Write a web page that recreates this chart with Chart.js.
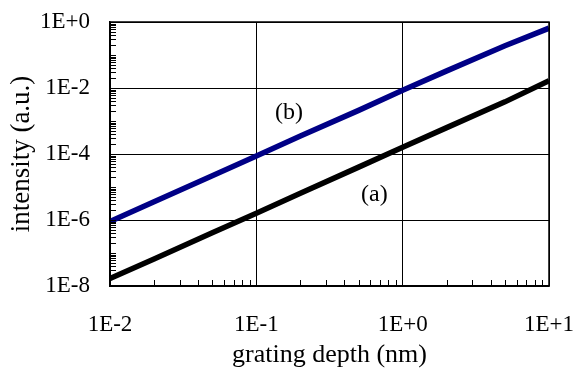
<!DOCTYPE html>
<html lang="en">
<head>
  <meta charset="UTF-8">
  <title>Intensity vs grating depth</title>
  <script src="https://cdn.jsdelivr.net/npm/chart.js"></script>
  <style>
    html, body { margin: 0; padding: 0; background: #fff; }
    #wrap { width: 575px; height: 371px; }
  </style>
</head>
<body>
  <div id="wrap"><canvas id="c"></canvas></div>
  <script>
    // grating depth (nm)
    const depth = [0.01, 0.02, 0.05, 0.1, 0.2, 0.5, 1, 2, 5, 10];
    // intensity (a.u.)
    const curveA = [1.7e-8, 6.6e-8, 4.1e-7, 1.6e-6, 6.5e-6, 4.0e-5, 1.6e-4, 6.3e-4, 3.8e-3, 1.65e-2];
    const curveB = [9.0e-7, 3.6e-6, 2.2e-5, 8.7e-5, 3.5e-4, 2.1e-3, 8.5e-3, 3.3e-2, 1.9e-1, 6.5e-1];

    const xTicks = [0.01, 0.1, 1, 10];
    const yTicks = [1e-8, 1e-6, 1e-4, 1e-2, 1];
    const seriesLabels = ['(a)', '(b)'];

    const serif = "'Liberation Serif', 'Times New Roman', serif";
    const fmt = v => {
      const e = Math.round(Math.log10(v));
      return '1E' + (e >= 0 ? '+' : '-') + Math.abs(e);
    };
    const pts = ys => depth.map((x, i) => ({ x: x, y: ys[i] }));
    const noPad = s => { s.paddingTop = 0; s.paddingBottom = 0; s.paddingLeft = 0; s.paddingRight = 0; };

    // inward minor ticks + series labels
    const extras = {
      id: 'extras',
      afterDatasetsDraw(chart) {
        const { ctx, chartArea: a, scales: { x, y } } = chart;
        ctx.save();
        ctx.strokeStyle = '#000';
        ctx.lineWidth = 1;
        ctx.beginPath();
        for (let d = -2; d < 1; d++) {
          for (let k = 2; k <= 9; k++) {
            const px = Math.round(x.getPixelForValue(k * Math.pow(10, d))) + 0.5;
            ctx.moveTo(px, a.bottom);
            ctx.lineTo(px, a.bottom - 6);
          }
        }
        for (let d = -8; d < 0; d++) {
          for (let k = 1; k <= 9; k++) {
            const py = Math.round(y.getPixelForValue(k * Math.pow(10, d))) + 0.5;
            ctx.moveTo(a.left, py);
            ctx.lineTo(a.left + 6, py);
          }
        }
        ctx.stroke();

        ctx.fillStyle = '#000';
        ctx.font = '24px ' + serif;
        ctx.textAlign = 'center';
        ctx.textBaseline = 'middle';
        ctx.fillText(seriesLabels[0], x.getPixelForValue(0.64), y.getPixelForValue(5.7e-6));
        ctx.fillText(seriesLabels[1], x.getPixelForValue(0.167), y.getPixelForValue(1.75e-3));
        ctx.restore();
      }
    };

    new Chart(document.getElementById('c'), {
      type: 'line',
      data: {
        datasets: [
          { label: seriesLabels[0], data: pts(curveA), borderColor: '#000000', borderWidth: 5.5, pointRadius: 0, tension: 0, fill: false },
          { label: seriesLabels[1], data: pts(curveB), borderColor: '#000086', borderWidth: 5.5, pointRadius: 0, tension: 0, fill: false }
        ]
      },
      options: {
        responsive: true,
        maintainAspectRatio: false,
        animation: false,
        events: [],
        layout: { padding: { left: 0, right: 26, top: 22, bottom: 0 } },
        plugins: { legend: { display: false }, tooltip: { enabled: false } },
        scales: {
          x: {
            type: 'logarithmic',
            min: 0.01,
            max: 10,
            afterBuildTicks: s => { s.ticks = xTicks.map(v => ({ value: v })); },
            afterFit: s => { s.height = 85; noPad(s); },
            border: { display: true, color: '#000', width: 1.5 },
            grid: { color: '#000', lineWidth: 1, drawTicks: false },
            ticks: {
              color: '#000', padding: 25, maxRotation: 0, autoSkip: false,
              font: { family: serif, size: 23 },
              callback: v => fmt(v)
            },
            title: {
              display: true, text: 'grating depth (nm)', color: '#000',
              font: { family: serif, size: 26 }, padding: { top: 0, bottom: 0 }
            }
          },
          y: {
            type: 'logarithmic',
            min: 1e-8,
            max: 1,
            afterBuildTicks: s => { s.ticks = yTicks.map(v => ({ value: v })); },
            afterFit: s => { s.width = 110; noPad(s); },
            border: { display: true, color: '#000', width: 1.5 },
            grid: { color: '#000', lineWidth: 1, drawTicks: false },
            ticks: {
              color: '#000', padding: 20, autoSkip: false,
              font: { family: serif, size: 23 },
              callback: v => fmt(v)
            },
            title: {
              display: true, text: 'intensity (a.u.)', color: '#000',
              font: { family: serif, size: 27 }, padding: { top: 6, bottom: 0 }
            }
          }
        }
      },
      plugins: [extras, {
        id: 'frame',
        afterDraw(chart) {
          const { ctx, chartArea: a } = chart;
          ctx.save();
          ctx.strokeStyle = '#000';
          ctx.lineWidth = 1.5;
          ctx.strokeRect(a.left, a.top, a.right - a.left, a.bottom - a.top);
          ctx.restore();
        }
      }]
    });
  </script>
</body>
</html>
